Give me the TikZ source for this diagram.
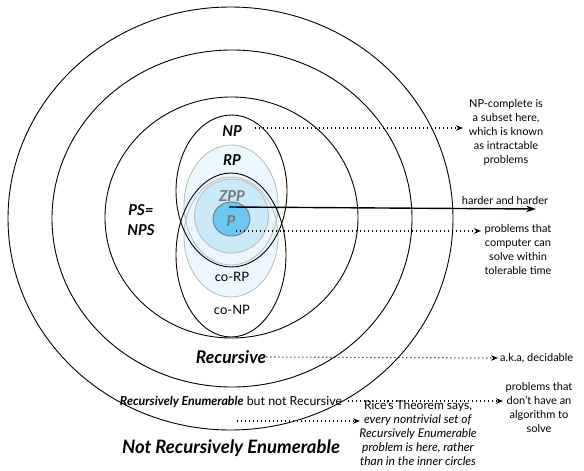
\documentclass[tikz,border=0pt]{standalone}
\usepackage{fontspec}
\setmainfont{Lato}
\usetikzlibrary{arrows.meta}
\definecolor{pblue}{RGB}{108,200,242}
\definecolor{zppblue}{RGB}{202,233,249}
\definecolor{rpblue}{RGB}{236,247,253}
\definecolor{ringgrey}{RGB}{190,190,190}
\definecolor{labgrey}{RGB}{118,118,118}
\begin{document}
\begin{tikzpicture}[x=1pt,y=-1pt,
  ring/.style={draw=black, line width=0.9pt},
  softring/.style={draw=ringgrey, line width=0.9pt},
  biglab/.style={font=\fontsize{15}{17}\selectfont\bfseries\itshape, inner sep=0pt},
  reglab/.style={font=\fontsize{13}{15}\selectfont, inner sep=0pt},
  note/.style={font=\fontsize{11}{14}\selectfont, align=center, inner sep=0pt},
  dotarrow/.style={line width=1.1pt, dash pattern=on 1.1pt off 2.9pt, -{Stealth[length=7pt,width=5.5pt]}},
  solidarrow/.style={line width=1.4pt, -{Stealth[length=10pt,width=6.5pt]}}
]
\useasboundingbox (0,0) rectangle (584,471);
% outer classes
\draw[ring] (230.5,218.5) ellipse [x radius=222.5pt, y radius=211.5pt];
\draw[ring] (232,218.5) ellipse [x radius=180pt, y radius=168.5pt];
\draw[ring] (231.5,217.5) ellipse [x radius=126.5pt, y radius=120.5pt];
% RP / co-RP
\fill[rpblue] (231,205) ellipse [x radius=47pt, y radius=60pt];
\fill[rpblue] (231,237) ellipse [x radius=47pt, y radius=60pt];
\draw[softring] (231,205) ellipse [x radius=47pt, y radius=60pt];
\draw[softring] (231,237) ellipse [x radius=47pt, y radius=60pt];
% ZPP and P
\draw[softring, fill=zppblue] (231.5,216) circle [radius=37pt];
\draw[draw=labgrey, line width=0.9pt, fill=pblue] (231.5,219) ellipse [x radius=18.5pt, y radius=17pt];
% NP / co-NP
\draw[ring] (231.5,191) ellipse [x radius=55.5pt, y radius=76pt];
\draw[ring] (231,255) ellipse [x radius=55pt, y radius=82pt];

% labels
\node[biglab] (lNP) at (232,131) {NP};
\node[biglab] (lRP) at (232,160) {RP};
\node[biglab, text=labgrey] (lZPP) at (232,196) {ZPP};
\node[biglab, text=labgrey] (lP) at (231,221) {P};
\node[reglab] (lcoRP) at (232,277) {co-RP};
\node[reglab] (lcoNP) at (232,310) {co-NP};
\node[biglab, align=center, font=\fontsize{15}{20}\selectfont\bfseries\itshape] (lPS) at (141,220) {PS=\\NPS};
\node[biglab, font=\fontsize{17.5}{19}\selectfont\bfseries\itshape] (lRec) at (231,357) {Recursive};
\node[inner sep=0pt, font=\fontsize{12.4}{14}\selectfont] (lRE) at (231,402) {\textbf{\textit{Recursively Enumerable}} but not Recursive};
\node[biglab, font=\fontsize{18.5}{20}\selectfont\bfseries\itshape] (lNRE) at (231,448) {Not Recursively Enumerable};

% notes
\node[note] (npc) at (506,132) {NP-complete is\\a subset here,\\which is known\\as intractable\\problems};
\node[note] (hard) at (505,200) {harder and harder};
\node[note] (tol) at (518,249) {problems that\\computer can\\solve within\\tolerable time};
\node[note, anchor=west] (dec) at (500,358) {a.k.a, decidable};
\node[note] (noalg) at (539,407) {problems that\\don’t have an\\algorithm to\\solve};
\node[note, font=\fontsize{12}{14}\selectfont] (rice) at (418,433) {Rice’s Theorem says,\\\textit{every nontrivial set of}\\\textit{Recursively Enumerable}\\\textit{problem is here, rather}\\\textit{than in the inner circles}};

% connector ends
\coordinate (hardS) at (229,207);
\coordinate (hardE) at (536,209);
\coordinate (npS) at (255,128);
\coordinate (npE) at (463,128);
\coordinate (pS) at (236,231);
\coordinate (pE) at (481,231);
\coordinate (recE) at (498,358);
\coordinate (reS) at (348,401);
\coordinate (reE) at (503,401);
\coordinate (riceS) at (237,421);
\coordinate (riceE) at (360,421);

\draw[solidarrow] (hardS) -- (hardE);
\draw[dotarrow] (npS) -- (npE);
\draw[dotarrow] (pS) -- (pE);
\draw[dotarrow] (lRec.east) -- (recE);
\draw[dotarrow] (reS) -- (reE);
\draw[dotarrow] (riceS) -- (riceE);
\end{tikzpicture}
\end{document}
